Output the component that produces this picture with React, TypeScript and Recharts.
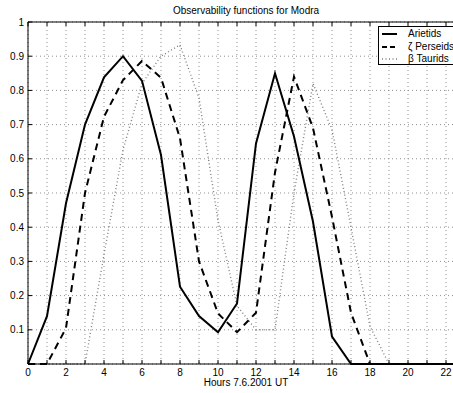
import React from 'react';
import { LineChart, Line, XAxis, YAxis, CartesianGrid } from 'recharts';

const hours = [0, 1, 2, 3, 4, 5, 6, 7, 8, 9, 10, 11, 12, 13, 14, 15, 16, 17, 18, 19, 20, 21, 22, 23];
const arietids = [0, 0.14, 0.47, 0.7, 0.838, 0.9, 0.828, 0.611, 0.226, 0.14, 0.093, 0.177, 0.645, 0.85, 0.665, 0.416, 0.08, 0, 0, 0, 0, 0, 0, 0];
const perseids = [0, 0, 0.105, 0.5, 0.723, 0.83, 0.886, 0.837, 0.66, 0.3, 0.148, 0.093, 0.15, 0.56, 0.84, 0.69, 0.43, 0.15, 0, 0, 0, 0, 0, 0];
const taurids = [0, 0, 0, 0, 0.32, 0.626, 0.82, 0.9, 0.933, 0.778, 0.42, 0.17, 0.1, 0.1, 0.5, 0.82, 0.685, 0.4, 0.11, 0, 0, 0, 0, 0];
const yTicks = [0.1, 0.2, 0.3, 0.4, 0.5, 0.6, 0.7, 0.8, 0.9, 1];
const seriesNames = ['Arietids', 'ζ Perseids', 'β Taurids'];
const title = 'Observability functions for Modra';
const xLabel = 'Hours 7.6.2001 UT';

const data = hours.map((h, i) => ({ h, a: arietids[i], p: perseids[i], t: taurids[i] }));

const FONT = '"Liberation Sans", Arial, Helvetica, sans-serif';

const seriesStyles = [
  { stroke: '#000', dash: undefined as string | undefined, width: 2 },
  { stroke: '#000', dash: '7 5', width: 2 },
  { stroke: '#808080', dash: '1 2.5', width: 1.4 },
];

export default function App() {
  const tickStyle = { fontSize: 10, fill: '#000', fontFamily: FONT };
  return (
    <div style={{ position: 'fixed', left: 0, top: 0, width: 453, height: 393, overflow: 'hidden', background: '#fff' }}>
      <LineChart width={475} height={393} data={data} margin={{ top: 21, right: 10, left: 0, bottom: 0 }}>
        <CartesianGrid stroke="#909090" strokeDasharray="1 3" />
        <XAxis
          dataKey="h"
          type="number"
          domain={[0, 23]}
          ticks={hours}
          interval={0}
          height={29}
          tickSize={-4}
          tickMargin={9}
          tickFormatter={(v: number) => (v % 2 === 0 ? String(v) : '')}
          tick={tickStyle}
          axisLine={{ stroke: '#000' }}
          tickLine={{ stroke: '#000' }}
        />
        <XAxis
          xAxisId="top"
          orientation="top"
          dataKey="h"
          type="number"
          domain={[0, 23]}
          ticks={hours}
          interval={0}
          height={1}
          tickSize={-4}
          tickFormatter={() => ''}
          axisLine={{ stroke: '#000' }}
          tickLine={{ stroke: '#000' }}
        />
        <YAxis
          type="number"
          domain={[0, 1]}
          ticks={yTicks}
          interval={0}
          width={28}
          tickSize={-4}
          tickMargin={8}
          tick={tickStyle}
          axisLine={{ stroke: '#000' }}
          tickLine={{ stroke: '#000' }}
        />
        <Line type="linear" dataKey="t" stroke={seriesStyles[2].stroke} strokeWidth={seriesStyles[2].width} strokeDasharray={seriesStyles[2].dash} dot={false} isAnimationActive={false} />
        <Line type="linear" dataKey="p" stroke={seriesStyles[1].stroke} strokeWidth={seriesStyles[1].width} strokeDasharray={seriesStyles[1].dash} dot={false} isAnimationActive={false} />
        <Line type="linear" dataKey="a" stroke={seriesStyles[0].stroke} strokeWidth={seriesStyles[0].width} dot={false} isAnimationActive={false} />
      </LineChart>
      <div style={{ position: 'absolute', left: 46, width: 400, top: 5, textAlign: 'center', fontFamily: FONT, fontSize: 10, lineHeight: '12px', color: '#000' }}>{title}</div>
      <div style={{ position: 'absolute', left: 46, width: 400, top: 377, textAlign: 'center', fontFamily: FONT, fontSize: 10, lineHeight: '12px', color: '#000' }}>{xLabel}</div>
      <div style={{ position: 'absolute', left: 378, top: 26, width: 90, height: 37, border: '1px solid #000', background: '#fff' }}>
        {seriesNames.map((name, i) => (
          <div key={name} style={{ position: 'absolute', left: 0, top: 1 + i * 12.5, height: 12, width: 90 }}>
            <svg width={20} height={12} style={{ position: 'absolute', left: 2, top: 0 }}>
              <line x1={1} x2={16} y1={6} y2={6} stroke={seriesStyles[i].stroke} strokeWidth={seriesStyles[i].width} strokeDasharray={i === 1 ? '5 3' : seriesStyles[i].dash} />
            </svg>
            <span style={{ position: 'absolute', left: 29, top: 0, fontFamily: FONT, fontSize: 10, lineHeight: '12px', color: '#000', whiteSpace: 'nowrap' }}>{name}</span>
          </div>
        ))}
      </div>
    </div>
  );
}
